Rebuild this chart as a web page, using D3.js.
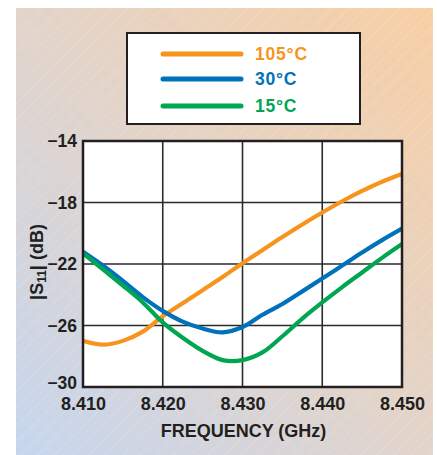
<!DOCTYPE html>
<html><head><meta charset="utf-8">
<script src="https://cdn.jsdelivr.net/npm/d3@7"></script>
<style>body{margin:0;background:#fff}svg{display:block}</style>
</head><body>
<script>
const freq = [8.410,8.4125,8.415,8.4175,8.420,8.4225,8.425,8.4275,8.430,8.4325,8.435,8.4375,8.440,8.4425,8.445,8.4475,8.450];
const s105 = [-27.0,-27.25,-27.0,-26.4,-25.4,-24.55,-23.7,-22.85,-21.95,-21.1,-20.25,-19.43,-18.65,-17.92,-17.25,-16.65,-16.15];
const s30  = [-21.2,-22.1,-23.1,-24.15,-25.05,-25.75,-26.2,-26.45,-26.1,-25.3,-24.6,-23.78,-22.95,-22.1,-21.25,-20.45,-19.7];
const s15  = [-21.3,-22.35,-23.4,-24.5,-25.8,-26.8,-27.65,-28.25,-28.25,-27.75,-26.7,-25.55,-24.5,-23.5,-22.55,-21.6,-20.7];
const seriesNames = ["105°C","30°C","15°C"];
const seriesColors = ["#F7941D","#0072BC","#00A651"];
const xTicks = [8.410,8.420,8.430,8.440,8.450];
const yTicks = [-14,-18,-22,-26,-30];

const W=437,H=455;
const svg=d3.select("body").append("svg").attr("width",W).attr("height",H);
const defs=svg.append("defs");
const grad=defs.append("linearGradient").attr("id","bg").attr("x1","0").attr("y1","1").attr("x2","1").attr("y2","0");
grad.append("stop").attr("offset","0").attr("stop-color","#C6D6EE");
grad.append("stop").attr("offset","0.5").attr("stop-color","#E2D4CA");
grad.append("stop").attr("offset","1").attr("stop-color","#F8CFA4");
const pat=defs.append("pattern").attr("id","hatch").attr("width",12).attr("height",12)
  .attr("patternUnits","userSpaceOnUse").attr("patternTransform","rotate(45)");
pat.append("line").attr("x1",0).attr("y1",0).attr("x2",0).attr("y2",12).attr("stroke","#fff").attr("stroke-opacity",0.3).attr("stroke-width",1);

svg.append("rect").attr("x",16).attr("y",8).attr("width",417).attr("height",447).attr("fill","url(#bg)");
svg.append("rect").attr("x",16).attr("y",8).attr("width",417).attr("height",447).attr("fill","url(#hatch)");

const m={l:83,t:141,r:402,b:387};
const x=d3.scaleLinear().domain([8.41,8.45]).range([m.l,m.r]);
const y=d3.scaleLinear().domain([-30,-14]).range([m.b,m.t]);

svg.append("rect").attr("x",m.l).attr("y",m.t).attr("width",m.r-m.l).attr("height",m.b-m.t).attr("fill","#fff");

const g=svg.append("g");
g.selectAll(".gx").data(xTicks.slice(1,-1)).join("line")
 .attr("x1",d=>x(d)).attr("x2",d=>x(d)).attr("y1",m.t).attr("y2",m.b)
 .attr("stroke","#2b2b2b").attr("stroke-width",1.6);
g.selectAll(".gy").data(yTicks.slice(1,-1)).join("line")
 .attr("y1",d=>y(d)).attr("y2",d=>y(d)).attr("x1",m.l).attr("x2",m.r)
 .attr("stroke","#2b2b2b").attr("stroke-width",1.6);

const clip=defs.append("clipPath").attr("id","clip");
clip.append("rect").attr("x",m.l).attr("y",m.t).attr("width",m.r-m.l).attr("height",m.b-m.t);

const line=d3.line().x((d,i)=>x(freq[i])).y(d=>y(d)).curve(d3.curveCatmullRom.alpha(0.5));
const data=[s105,s30,s15];
const order=[0,1,2];
svg.append("g").attr("clip-path","url(#clip)").selectAll("path").data(order).join("path")
 .attr("d",i=>line(data[i])).attr("fill","none").attr("stroke",i=>seriesColors[i])
 .attr("stroke-width",4.2).attr("stroke-linejoin","round");

svg.append("rect").attr("x",m.l).attr("y",m.t).attr("width",m.r-m.l).attr("height",m.b-m.t)
 .attr("fill","none").attr("stroke","#231F20").attr("stroke-width",2.5);

const font="'Liberation Sans', Arial, sans-serif";
// x axis
const xa=svg.append("g").attr("transform",`translate(0,${m.b})`)
 .call(d3.axisBottom(x).tickValues(xTicks).tickFormat(d3.format(".3f")).tickSize(0).tickPadding(10));
xa.select(".domain").remove();
xa.selectAll("text").attr("font-family",font).attr("font-weight","bold").attr("font-size",18).attr("fill","#231F20");
const ya=svg.append("g").attr("transform",`translate(${m.l},0)`)
 .call(d3.axisLeft(y).tickValues(yTicks).tickFormat(d=>"\u2212"+Math.abs(d)).tickSize(0).tickPadding(6));
ya.select(".domain").remove();
ya.selectAll("text").attr("font-family",font).attr("font-weight","bold").attr("font-size",17.5).attr("fill","#231F20");
ya.selectAll(".tick").filter(d=>d===-30).select("text").attr("dy","0.1em");

svg.append("text").attr("x",(m.l+m.r)/2+1).attr("y",437).attr("text-anchor","middle")
 .attr("font-family",font).attr("font-weight","bold").attr("font-size",18).attr("fill","#231F20")
 .text("FREQUENCY (GHz)");

const yl=svg.append("text").attr("transform","translate(43,262) rotate(-90)").attr("text-anchor","middle")
 .attr("font-family",font).attr("font-weight","bold").attr("font-size",18).attr("fill","#231F20");
yl.append("tspan").text("|S");
yl.append("tspan").attr("font-size",12).attr("dy",3).text("11");
yl.append("tspan").attr("dy",-3).text("| (dB)");

// legend
svg.append("rect").attr("x",127).attr("y",33).attr("width",233).attr("height",91)
 .attr("fill","#fff").attr("stroke","#231F20").attr("stroke-width",2);
const ly=[54,79,106];
const lg=svg.append("g").selectAll("g").data(order).join("g");
lg.append("line").attr("x1",163).attr("x2",241).attr("y1",i=>ly[i]).attr("y2",i=>ly[i])
 .attr("stroke",i=>seriesColors[i]).attr("stroke-width",5).attr("stroke-linecap","round");
lg.append("text").attr("x",255).attr("y",i=>ly[i]+6).attr("font-family",font).attr("font-weight","bold")
 .attr("font-size",17.5).attr("fill",i=>seriesColors[i]).attr("letter-spacing",0.8).text(i=>seriesNames[i]);
</script>
</body></html>
